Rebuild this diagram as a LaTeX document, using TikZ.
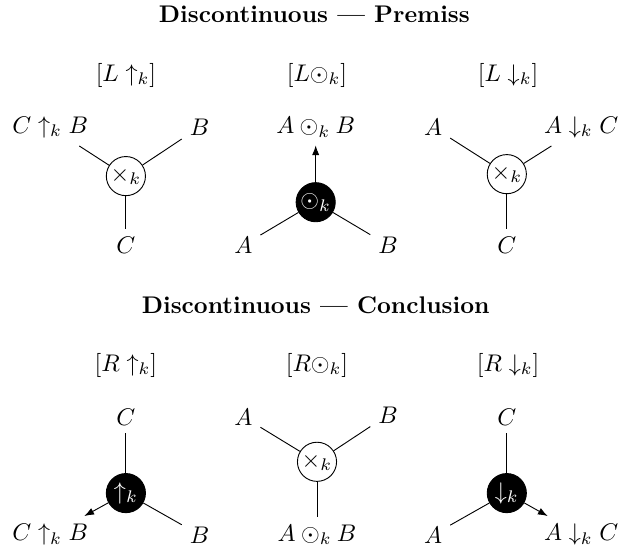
\RequirePackage{fix-cm}
\documentclass[tikz,border=0pt]{standalone}
\usepackage{amsmath,amssymb}
\usepackage{tikz}
\usetikzlibrary{arrows.meta}

\begin{document}
\begin{tikzpicture}[>={Latex[length=1.5mm,width=1.1mm]},
    every node/.style={font=\fontsize{10.5}{12.6}\selectfont},
    hub/.style={circle, draw, minimum size=0.6cm, inner sep=0.5pt},
    hubdark/.style={hub, fill=black, text=white},
    heading/.style={font=\fontsize{10.5}{12.6}\selectfont\bfseries}]
  \useasboundingbox (0,0) rectangle (9.49,-8.52);
  % premiss row
  \node[heading] (tprem) at (4.82,-0.22) {Discontinuous --- Premiss};
  \node (rule1) at (1.93,-1.15) {$[L\uparrow_k]$};
  \node (rule2) at (4.86,-1.15) {$[L\odot_k]$};
  \node (rule3) at (7.79,-1.15) {$[L\downarrow_k]$};

  \node[hub] (p1) at (1.93,-2.70) {$\times_k$};
  \node (p1a) at (0.77,-1.95) {$C\uparrow_k B$};
  \node (p1b) at (3.06,-1.95) {$B$};
  \node (p1c) at (1.93,-3.76) {$C$};
  \draw (p1) -- (p1a);
  \draw (p1) -- (p1b);
  \draw (p1) -- (p1c);

  \node[hubdark] (p2) at (4.84,-3.10) {$\odot_k$};
  \node (p2a) at (4.84,-1.95) {$A\odot_k B$};
  \node (p2b) at (3.73,-3.76) {$A$};
  \node (p2c) at (5.95,-3.76) {$B$};
  \draw[->] (p2) -- (p2a);
  \draw (p2) -- (p2b);
  \draw (p2) -- (p2c);

  \node[hub] (p3) at (7.77,-2.67) {$\times_k$};
  \node (p3a) at (6.64,-1.95) {$A$};
  \node (p3b) at (8.91,-1.95) {$A\downarrow_k C$};
  \node (p3c) at (7.77,-3.76) {$C$};
  \draw (p3) -- (p3a);
  \draw (p3) -- (p3b);
  \draw (p3) -- (p3c);

  % conclusion row
  \node[heading] (tconc) at (4.84,-4.68) {Discontinuous --- Conclusion};
  \node (rule4) at (1.93,-5.60) {$[R\uparrow_k]$};
  \node (rule5) at (4.86,-5.60) {$[R\odot_k]$};
  \node (rule6) at (7.79,-5.60) {$[R\downarrow_k]$};

  \node[hubdark] (c1) at (1.93,-7.56) {$\uparrow_k$};
  \node (c1a) at (1.93,-6.39) {$C$};
  \node (c1b) at (0.77,-8.20) {$C\uparrow_k B$};
  \node (c1c) at (3.06,-8.20) {$B$};
  \draw (c1) -- (c1a);
  \draw[->] (c1) -- (c1b);
  \draw (c1) -- (c1c);

  \node[hub] (c2) at (4.86,-7.08) {$\times_k$};
  \node (c2a) at (3.73,-6.39) {$A$};
  \node (c2b) at (5.95,-6.36) {$B$};
  \node (c2c) at (4.86,-8.20) {$A\odot_k B$};
  \draw (c2) -- (c2a);
  \draw (c2) -- (c2b);
  \draw (c2) -- (c2c);

  \node[hubdark] (c3) at (7.77,-7.56) {$\downarrow_k$};
  \node (c3a) at (7.77,-6.39) {$C$};
  \node (c3b) at (6.64,-8.20) {$A$};
  \node (c3c) at (8.91,-8.20) {$A\downarrow_k C$};
  \draw (c3) -- (c3a);
  \draw (c3) -- (c3b);
  \draw[->] (c3) -- (c3c);
\end{tikzpicture}
\end{document}
